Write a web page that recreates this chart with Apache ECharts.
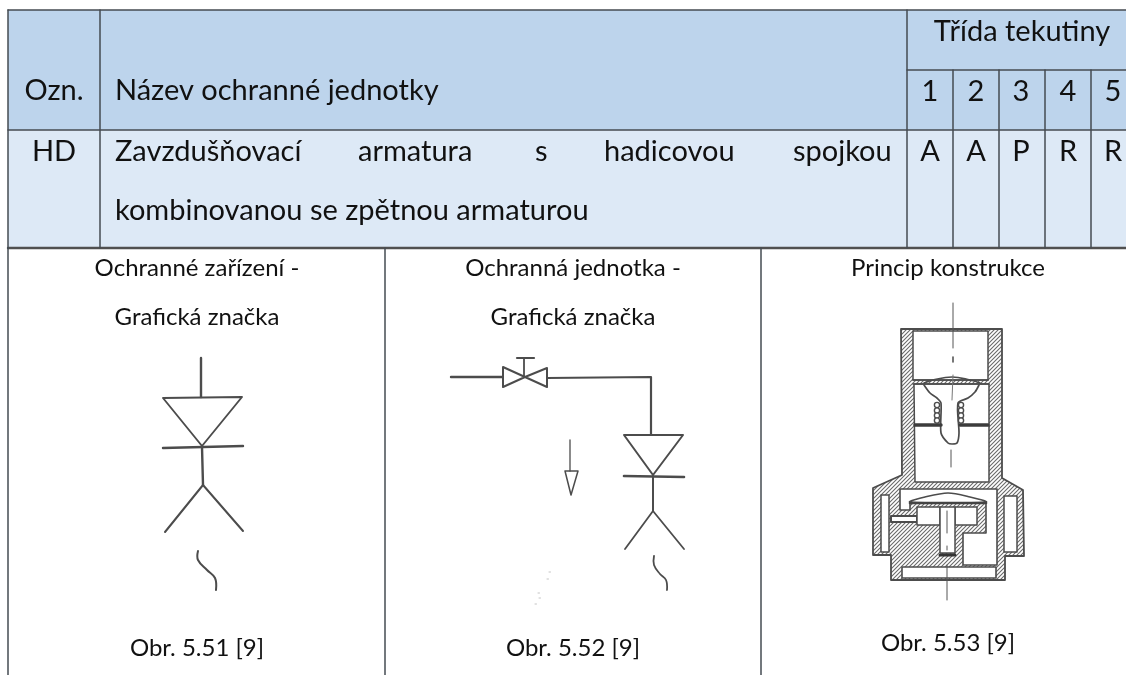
<!DOCTYPE html>
<html>
<head>
<meta charset="utf-8">
<title>Ochranná jednotka HD</title>
<script src="https://cdn.jsdelivr.net/npm/echarts@6/dist/echarts.min.js"></script>
<style>
html, body { margin: 0; padding: 0; background: #fff; }
#chart { width: 1126px; height: 675px; }
</style>
</head>
<body>
<div id="chart"></div>
<script>
// texty tabulky
var headCodeLabel = 'Ozn.';
var headNameLabel = 'Název ochranné jednotky';
var headClassLabel = 'Třída tekutiny';
var classNumbers = ['1', '2', '3', '4', '5'];
var classValues = ['A', 'A', 'P', 'R', 'R'];
var unitCode = 'HD';
var unitNameWords = ['Zavzdušňovací', 'armatura', 's', 'hadicovou', 'spojkou'];
var unitNameLine2 = 'kombinovanou se zpětnou armaturou';
var panelTitles = [
	['Ochranné zařízení -', 'Grafická značka'],
	['Ochranná jednotka -', 'Grafická značka'],
	['Princip konstrukce']
];
var panelCaptions = ['Obr. 5.51 [9]', 'Obr. 5.52 [9]', 'Obr. 5.53 [9]'];

// rozvrzeni tabulky
var classLines = [907, 953, 999, 1045, 1091];
var classCenters = [930, 976, 1021, 1068, 1113];
var wordLefts = [115, 358, 535, 604, 793];
var panelCenters = [197, 573, 948];
var panelLines = [8, 385, 761];
var captionRows = [648, 648, 643];

var FONT = 'Lato, Carlito, Calibri, sans-serif';
var LINE = '#454b52';
var INK = '#4c4c4c';
var HEAD_SIZE = 29;
var PANEL_SIZE = 24;

// srafovani
function hatchTile() {
	var c = document.createElement('canvas');
	c.width = 4; c.height = 4;
	var g = c.getContext('2d');
	g.fillStyle = '#fff';
	g.fillRect(0, 0, 4, 4);
	g.strokeStyle = '#6a6a6a';
	g.lineWidth = 1.1;
	g.beginPath();
	g.moveTo(-1, 5); g.lineTo(5, -1);
	g.moveTo(-1, 1); g.lineTo(1, -1);
	g.moveTo(3, 5); g.lineTo(5, 3);
	g.stroke();
	return c;
}
var hatch = { image: hatchTile(), repeat: 'repeat' };

function renderAll(params, api) {
	var kids = [];
	function P(x, y) { return api.coord([x, y]); }
	function pts(list) { return list.map(function(p) { return P(p[0], p[1]); }); }

	function box(x0, y0, x1, y1, fill) {
		var a = P(x0, y0), b = P(x1, y1);
		kids.push({ type: 'rect', shape: { x: a[0], y: a[1], width: b[0] - a[0], height: b[1] - a[1] }, style: { fill: fill } });
	}
	function stroke(list, width, color, smooth, dash) {
		kids.push({
			type: 'polyline',
			shape: { points: pts(list), smooth: smooth || 0 },
			style: { fill: 'none', stroke: color || INK, lineWidth: width || 2, lineDash: dash || null, lineJoin: 'round', lineCap: 'round' }
		});
	}
	function poly(list, fill, width, smooth) {
		kids.push({
			type: 'polygon',
			shape: { points: pts(list), smooth: smooth || 0 },
			style: { fill: fill, stroke: INK, lineWidth: width === undefined ? 1.6 : width, lineJoin: 'round' }
		});
	}
	function label(text, x, y, size, align) {
		var p = P(x, y);
		kids.push({
			type: 'text',
			style: { text: text, x: p[0], y: p[1], fill: '#111', fontFamily: FONT, fontSize: size, align: align || 'center', verticalAlign: 'middle' }
		});
	}

	// pozadi bunek
	box(8, 10, 1126, 130, '#bdd4ec');
	box(8, 130, 1126, 248, '#dde9f6');

	// mrizka
	stroke([[8, 10], [1126, 10]], 1.5, LINE);
	stroke([[8, 130], [1126, 130]], 1.5, LINE);
	stroke([[907, 70], [1126, 70]], 1.5, LINE);
	stroke([[8, 248], [1126, 248]], 2.4, '#505050');
	stroke([[8, 10], [8, 248]], 1.5, LINE);
	stroke([[100, 10], [100, 248]], 1.5, LINE);
	stroke([[classLines[0], 10], [classLines[0], 248]], 1.5, LINE);
	for (var i = 1; i < classLines.length; i++) {
		stroke([[classLines[i], 70], [classLines[i], 248]], 1.5, LINE);
	}
	panelLines.forEach(function(x) {
		stroke([[x, 248], [x, 675]], 1.5, LINE);
	});

	// texty
	label(headCodeLabel, 54, 91, HEAD_SIZE);
	label(headNameLabel, 115, 91, HEAD_SIZE, 'left');
	label(headClassLabel, 1022, 32, HEAD_SIZE);
	classNumbers.forEach(function(t, k) { label(t, classCenters[k], 92, HEAD_SIZE); });
	classValues.forEach(function(t, k) { label(t, classCenters[k], 152, HEAD_SIZE); });
	label(unitCode, 54, 152, HEAD_SIZE);
	unitNameWords.forEach(function(t, k) { label(t, wordLefts[k], 152, HEAD_SIZE, 'left'); });
	label(unitNameLine2, 115, 211, HEAD_SIZE, 'left');
	panelTitles.forEach(function(rows, k) {
		rows.forEach(function(t, r) { label(t, panelCenters[k], 268 + r * 49, PANEL_SIZE); });
	});
	panelCaptions.forEach(function(t, k) { label(t, panelCenters[k], captionRows[k], PANEL_SIZE); });

	drawSymbol();
	drawValveBranch();
	drawSection();

	// znacka: trychtyr, prerusena cara, Y
	function drawSymbol() {
		stroke([[201, 358], [201, 397]], 2.4);
		stroke([[163, 398], [242, 397], [202, 446], [163, 398]], 1.9);
		stroke([[163, 448], [243, 446]], 2.4);
		stroke([[202, 447], [203, 485]], 2.4);
		stroke([[165, 532], [203, 485], [243, 531]], 2);
		stroke([[198, 551], [198, 560], [207, 570], [215, 578], [216, 590]], 2, INK, 0.4);
	}

	function drawValveBranch() {
		stroke([[451, 377], [503, 377]], 2.4);
		poly([[503, 367], [525, 377], [503, 387]], '#fff', 2);
		poly([[547, 368], [525, 377], [547, 387]], '#fff', 2);
		stroke([[524, 377], [524, 358]], 1.8);
		stroke([[517, 358], [534, 358]], 2.2);
		stroke([[547, 378], [651, 377], [651, 434]], 2.2);
		stroke([[624, 435], [683, 435], [653, 475], [624, 435]], 2);
		stroke([[624, 476], [684, 477]], 2.6);
		stroke([[653, 476], [653, 511]], 2);
		stroke([[625, 549], [653, 511], [684, 549]], 1.8);
		stroke([[654, 556], [654, 565], [660, 574], [666, 580], [667, 590]], 1.8, INK, 0.4);
		// sipka
		stroke([[570, 440], [570, 471]], 1.3);
		stroke([[565, 471], [578, 471], [571, 495], [565, 471]], 1.5);
		// necistoty skenu
		[[549, 572], [547, 579], [538, 593], [539, 598], [535, 604]].forEach(function(s) {
			stroke([s, [s[0] + 1.5, s[1]]], 1, '#c4c4c4');
		});
	}

	function drawSection() {
		// obrys s hradbou
		poly([[901, 329], [1002, 329], [1002, 478], [1023, 490], [1024, 556], [1005, 556], [1005, 580],
			[891, 580], [891, 555], [873, 555], [873, 488], [902, 475]], hatch, 1.8);
		// vnitrek trubky
		poly([[913, 331], [988, 331], [988, 380], [913, 380]], '#fff', 1.5);
		poly([[914, 384], [989, 384], [989, 482], [915, 482]], '#fff', 1.5);
		// drazky po stranach
		poly([[881, 495], [889, 495], [889, 552], [881, 552]], '#fff', 1.5);
		poly([[1004, 496], [1017, 496], [1017, 552], [1004, 552]], '#fff', 1.5);
		// komora
		poly([[900, 489], [997, 489], [997, 565], [963, 565], [963, 533], [986, 533], [986, 503], [910, 503], [910, 510], [900, 510]], '#fff', 1.6);
		// spodni komora
		poly([[902, 567], [996, 567], [996, 578], [902, 578]], '#fff', 1.6);
		// kanal
		poly([[891, 516], [917, 516], [917, 522], [891, 522]], '#fff', 2);
		// dutiny pod hlavou
		poly([[917, 507], [940, 507], [940, 525], [917, 525]], '#fff', 1.5);
		poly([[955, 507], [977, 507], [977, 525], [955, 525]], '#fff', 1.5);
		poly([[940, 507], [955, 507], [955, 553], [940, 553]], '#fff', 1.5);
		stroke([[940, 555], [955, 555]], 3, '#333');
		// hlava ventilu
		poly([[910, 502], [925, 497], [948, 493], [970, 497], [986, 502]], '#fff', 1.6, 0.3);
		stroke([[910, 503], [986, 503]], 2.6, '#444');

		// horni kuzelka
		stroke([[913, 380], [988, 380]], 1.6);
		stroke([[913, 384], [989, 384]], 1.6);
		stroke([[924, 383], [933, 380], [952, 377], [970, 380], [980, 383]], 1.6, INK, 0.4);
		stroke([[924, 385], [930, 393], [937, 398], [941, 403], [941, 433], [948, 443], [952, 444], [957, 443], [959, 433], [958, 403], [968, 398], [975, 392], [979, 385]], 1.7, INK, 0.25);
		// pruzina
		[405, 410.5, 415.5, 420.5].forEach(function(y) {
			[937, 961].forEach(function(x) {
				var c = P(x, y);
				kids.push({ type: 'circle', shape: { cx: c[0], cy: c[1], r: 2.6 }, style: { fill: '#fff', stroke: INK, lineWidth: 1.4 } });
			});
		});
		stroke([[915, 425], [941, 425]], 3.4, '#3c3c3c');
		stroke([[960, 425], [988, 425]], 3.4, '#3c3c3c');

		// osa
		stroke([[953, 303], [953, 348]], 1, '#555');
		stroke([[953, 357], [953, 362]], 1.6, '#555');
		stroke([[953, 375], [952, 400]], 1, '#777');
		stroke([[951, 450], [951, 467]], 1, '#555');
		stroke([[947, 511], [947, 533]], 1, '#555');
		stroke([[947, 546], [947, 550]], 1, '#555');
		stroke([[947, 565], [947, 600]], 1, '#555');
	}

	return { type: 'group', children: kids };
}

var chart = echarts.init(document.getElementById('chart'));
chart.setOption({
	animation: false,
	grid: { left: 0, right: 0, top: 0, bottom: 0 },
	xAxis: { type: 'value', min: 0, max: 1126, show: false },
	yAxis: { type: 'value', min: 0, max: 675, inverse: true, show: false },
	series: [{
		type: 'custom',
		coordinateSystem: 'cartesian2d',
		data: [[0, 0]],
		clip: false,
		silent: true,
		renderItem: renderAll
	}]
});
</script>
</body>
</html>
